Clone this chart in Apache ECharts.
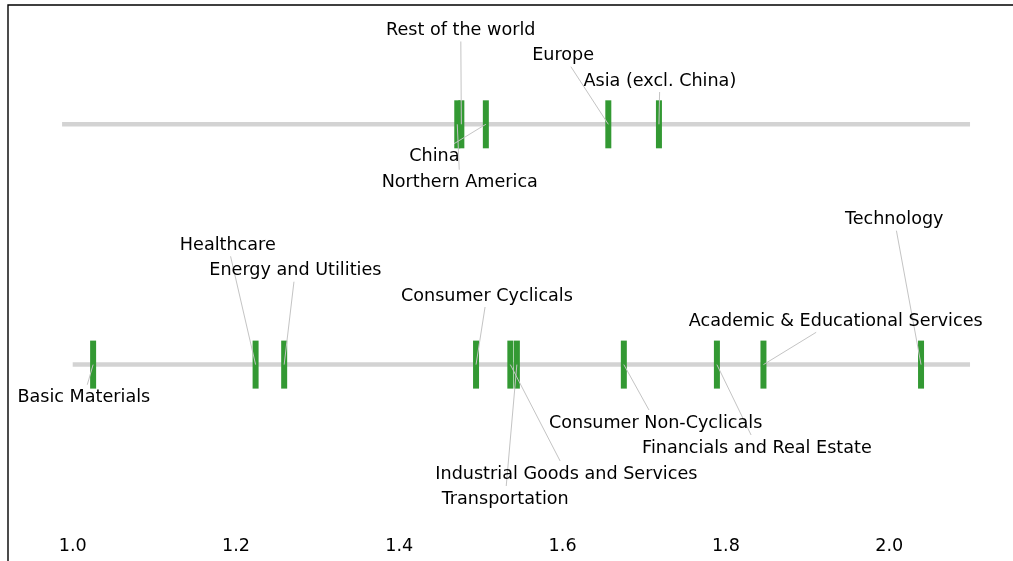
<!DOCTYPE html>
<html>
<head>
<meta charset="utf-8">
<script src="https://cdn.jsdelivr.net/npm/echarts@6.0.0/dist/echarts.min.js"></script>
<style>
  html, body { margin: 0; padding: 0; background: #fff; }
  #chart { width: 1013px; height: 561px; }
</style>
</head>
<body>
<div id="chart"></div>
<script>
// Upper strip: regions
const regionNames = ['Rest of the world', 'Northern America', 'China', 'Europe', 'Asia (excl. China)'];
const regionValues = [1.476, 1.471, 1.506, 1.656, 1.718];

// Lower strip: sectors
const sectorNames = [
  'Basic Materials', 'Healthcare', 'Energy and Utilities', 'Consumer Cyclicals',
  'Industrial Goods and Services', 'Transportation', 'Consumer Non-Cyclicals',
  'Financials and Real Estate', 'Academic & Educational Services', 'Technology'
];
const sectorValues = [1.025, 1.224, 1.259, 1.494, 1.536, 1.544, 1.675, 1.789, 1.846, 2.039];

// x-axis tick labels
const tickValues = [1.0, 1.2, 1.4, 1.6, 1.8, 2.0];

// extent of the grey baseline behind each strip
const regionRange = [0.987, 2.099];
const sectorRange = [1.0, 2.099];

// label placement: pixel offset of each label centre from its mark
const regionLabelOffsets = [[-0.6, -94.8], [2.5, 57.4], [-51.5, 31.4], [-45.2, -69.6], [0.9, -44.3]];
const sectorLabelOffsets = [
  [-9.3, 32.1], [-27.8, -120.3], [11.2, -94.9], [10.9, -69.6], [56, 108.4],
  [-11.7, 133.4], [31.8, 57.4], [40, 82.4], [72.3, -44.3], [-26.8, -145.9]
];

const REGION_ROW = 1;
const SECTOR_ROW = 0;
const FONT_FAMILY = '"DejaVu Sans", sans-serif';
const FONT_SIZE = 17.6;
const FONT = FONT_SIZE + 'px ' + FONT_FAMILY;
const MARK_COLOR = '#339933';
const BASE_COLOR = '#d3d3d3';
const LEADER_COLOR = '#c4c4c4';

const measureCtx = document.createElement('canvas').getContext('2d');
measureCtx.font = FONT;

const labelItems = regionNames.map((name, i) => ({
  name, value: [regionValues[i], REGION_ROW], offset: regionLabelOffsets[i]
})).concat(sectorNames.map((name, i) => ({
  name, value: [sectorValues[i], SECTOR_ROW], offset: sectorLabelOffsets[i]
})));

// Draws one text label plus a leader line from the label box edge to its mark
function renderLabel(params, api) {
  const item = labelItems[params.dataIndex];
  const p = api.coord([api.value(0), api.value(1)]);
  const cx = p[0] + item.offset[0];
  const cy = p[1] + item.offset[1];
  const hw = measureCtx.measureText(item.name).width / 2 + 2;
  const hh = 12;
  const vx = p[0] - cx;
  const vy = p[1] - cy;
  const t = Math.min(
    vx ? hw / Math.abs(vx) : Infinity,
    vy ? hh / Math.abs(vy) : Infinity
  );
  const children = [];
  if (t < 1) {
    children.push({
      type: 'line',
      z2: 1,
      shape: { x1: cx + vx * t, y1: cy + vy * t, x2: p[0], y2: p[1] },
      style: { stroke: LEADER_COLOR, lineWidth: 1 }
    });
  }
  children.push({
    type: 'text',
    z2: 2,
    style: {
      text: item.name, x: cx, y: cy + 1,
      align: 'center', verticalAlign: 'middle',
      font: FONT, fill: '#000'
    }
  });
  return { type: 'group', children };
}

const chart = echarts.init(document.getElementById('chart'), null, { renderer: 'canvas' });

chart.setOption({
  animation: false,
  backgroundColor: '#fff',
  grid: {
    left: 8, top: 5, right: -30, bottom: -30,
    show: true, borderColor: '#000', borderWidth: 1.4,
    backgroundColor: 'transparent',
    outerBoundsMode: 'none'
  },
  xAxis: {
    type: 'value',
    min: 0.92076,
    max: 2.18838,
    offset: -54,
    splitLine: { show: false },
    axisLine: { show: false, onZero: false },
    axisTick: { show: false },
    axisLabel: {
      customValues: tickValues,
      formatter: v => v.toFixed(1),
      margin: 0,
      color: '#000',
      fontSize: FONT_SIZE,
      fontFamily: FONT_FAMILY
    }
  },
  yAxis: {
    type: 'value',
    min: -0.9421,
    max: 1.4965,
    show: false,
    splitLine: { show: false }
  },
  series: [
    {
      type: 'line',
      silent: true,
      showSymbol: false,
      symbol: 'none',
      data: [[regionRange[0], REGION_ROW], [regionRange[1], REGION_ROW]],
      lineStyle: { color: BASE_COLOR, width: 4.5, cap: 'butt' },
      z: 1
    },
    {
      type: 'line',
      silent: true,
      showSymbol: false,
      symbol: 'none',
      data: [[sectorRange[0], SECTOR_ROW], [sectorRange[1], SECTOR_ROW]],
      lineStyle: { color: BASE_COLOR, width: 4.5, cap: 'butt' },
      z: 1
    },
    {
      type: 'scatter',
      silent: true,
      symbol: 'rect',
      symbolSize: [6, 48],
      itemStyle: { color: MARK_COLOR, opacity: 1 },
      data: regionValues.map(v => [v, REGION_ROW]).concat(sectorValues.map(v => [v, SECTOR_ROW])),
      z: 2
    },
    {
      type: 'custom',
      silent: true,
      renderItem: renderLabel,
      encode: { x: 0, y: 1 },
      data: labelItems.map(d => d.value),
      z: 3
    }
  ]
});
</script>
</body>
</html>
